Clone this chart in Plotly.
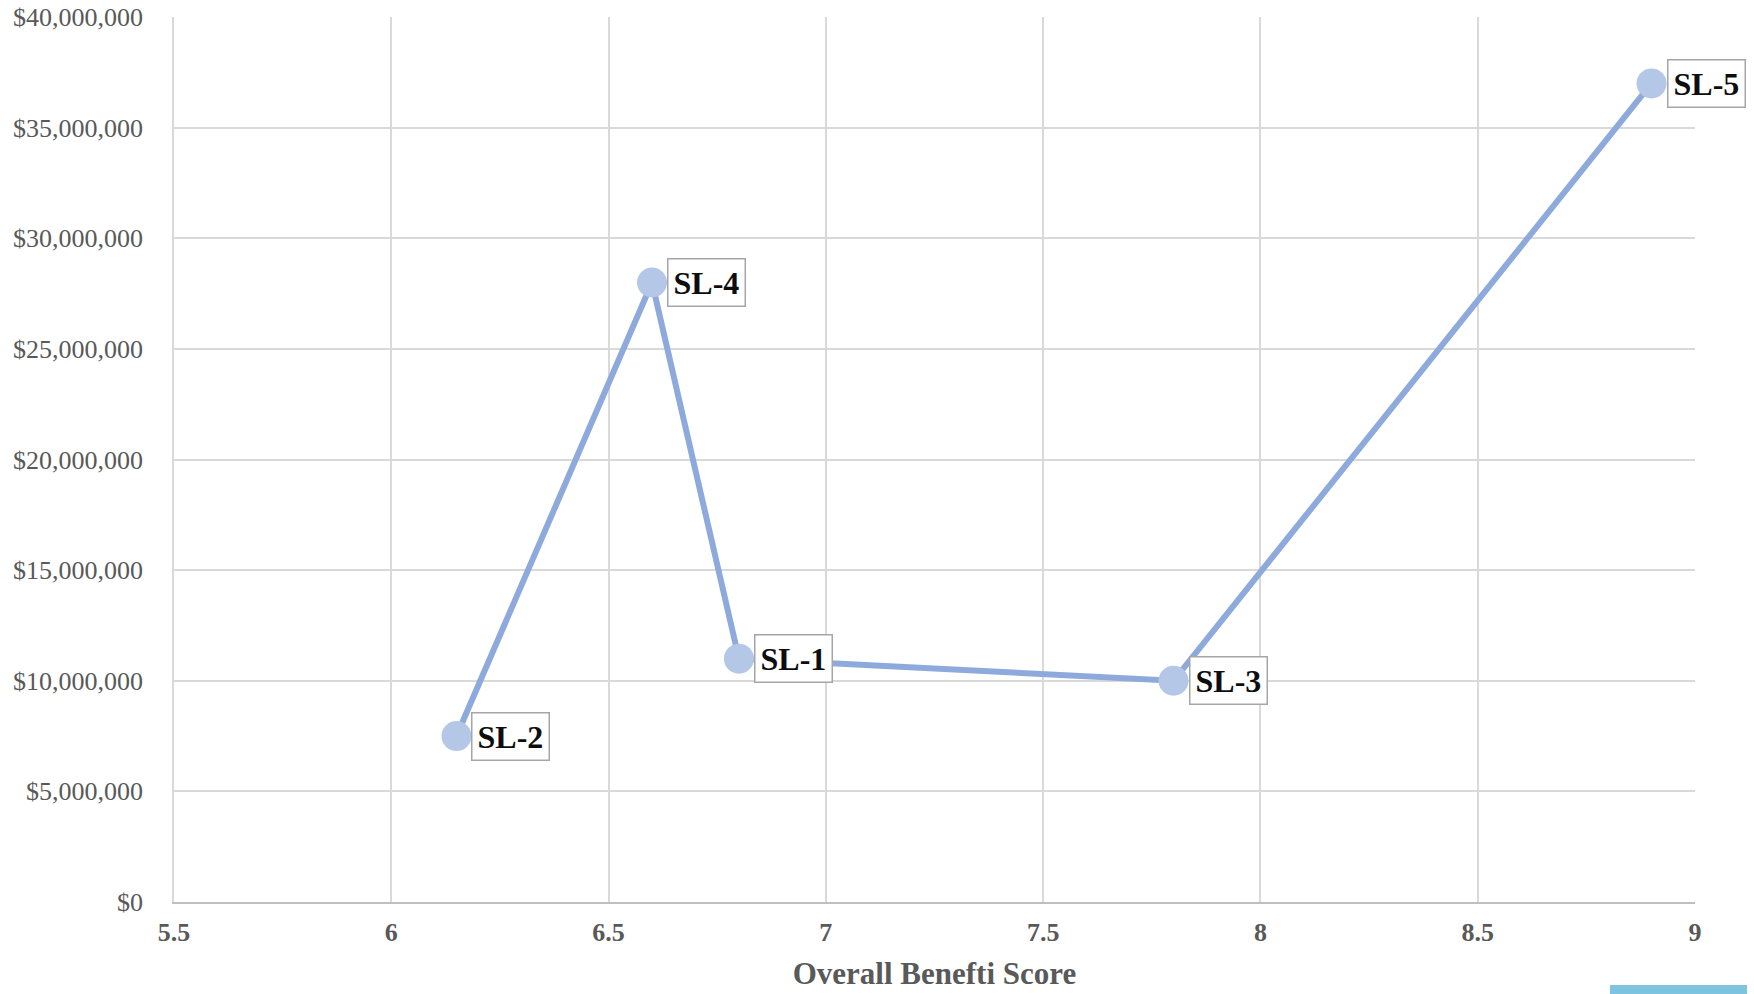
import plotly.graph_objects as go

labels = ["SL-2", "SL-4", "SL-1", "SL-3", "SL-5"]
benefit_score = [6.15, 6.6, 6.8, 7.8, 8.9]
cost = [7500000, 28000000, 11000000, 10000000, 37000000]
x_ticks = [5.5, 6, 6.5, 7, 7.5, 8, 8.5, 9]
x_tick_text = ["5.5", "6", "6.5", "7", "7.5", "8", "8.5", "9"]
y_ticks = [0, 5000000, 10000000, 15000000, 20000000, 25000000, 30000000, 35000000, 40000000]

FONT = "Liberation Serif, Times New Roman, serif"

fig = go.Figure()
fig.add_trace(go.Scatter(
    x=benefit_score, y=cost, mode="lines+markers",
    line=dict(color="#8eaadc", width=6),
    marker=dict(color="#b4c7e7", size=30, line=dict(width=0)),
    hoverinfo="skip", showlegend=False,
))

for lab, xv, yv in zip(labels, benefit_score, cost):
    fig.add_annotation(
        x=xv, y=yv, text="<b>" + lab + "</b>", showarrow=False,
        xanchor="left", yanchor="middle", xshift=15,
        font=dict(family=FONT, size=32, color="#0d0d0d"),
        bgcolor="white", bordercolor="#a6a6a6", borderwidth=1.5, borderpad=5,
    )

fig.add_shape(type="rect", xref="paper", yref="paper",
              x0=(1610 - 174) / 1521, x1=(1747 - 174) / 1521,
              y0=-92 / 885, y1=-83 / 885,
              fillcolor="#7ec4e0", line=dict(width=0), layer="above")

fig.update_layout(
    width=1754, height=994,
    margin=dict(l=174, r=59, t=17, b=92),
    paper_bgcolor="white", plot_bgcolor="white",
    font=dict(family=FONT, color="#595959"),
    xaxis=dict(
        range=[5.5, 9], tickvals=x_ticks, ticktext=["<b>" + t + "</b>" for t in x_tick_text],
        tickfont=dict(family=FONT, size=26, color="#595959"),
        showgrid=True, gridcolor="#d9d9d9", gridwidth=1.5,
        showline=True, linecolor="#bfbfbf", linewidth=1.5,
        zeroline=False, ticks="", ticklabelstandoff=6, automargin=False,
        ticklabeloverflow="allow",
        title=dict(text="<b>Overall Benefti Score</b>",
                   font=dict(family=FONT, size=31, color="#595959"), standoff=16),
    ),
    yaxis=dict(
        range=[0, 40000000], tickvals=y_ticks,
        tickformat="$,.0f",
        tickfont=dict(family=FONT, size=26, color="#595959"),
        showgrid=True, gridcolor="#d9d9d9", gridwidth=1.5,
        showline=True, linecolor="#d9d9d9", linewidth=1.5,
        zeroline=False, ticks="", ticklabelstandoff=24, automargin=False,
        ticklabeloverflow="allow",
    ),
)

fig.write_html("out.html", config={"displayModeBar": False},
               post_script="document.body.style.margin='0';")
